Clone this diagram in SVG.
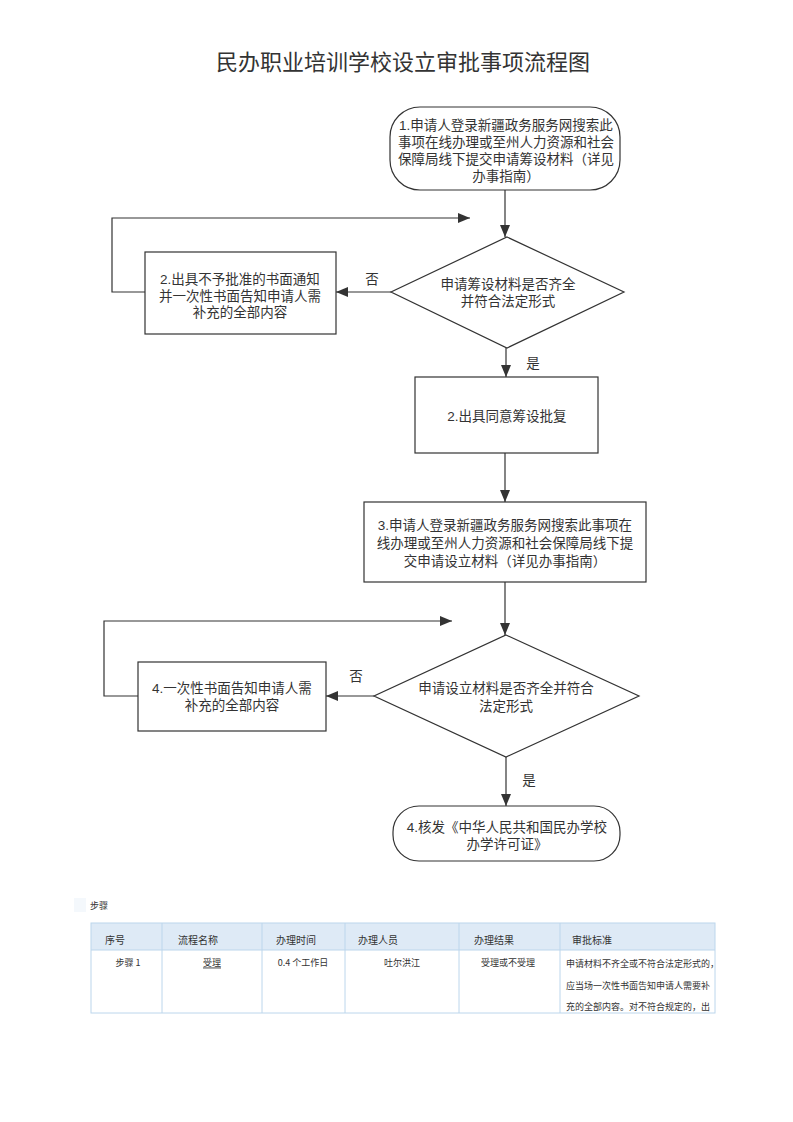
<svg xmlns="http://www.w3.org/2000/svg" width="793" height="1122" viewBox="0 0 793 1122">
<style>
.shape{fill:#fff;stroke:#333;stroke-width:1.2}
.ln{fill:none;stroke:#333;stroke-width:1.2}
.t{font-family:"Liberation Sans","Noto Sans CJK SC",sans-serif;font-size:13.5px;fill:#333;text-anchor:middle;dominant-baseline:central}
.title{font-family:"Liberation Sans","Noto Sans CJK SC",sans-serif;font-size:22px;fill:#333;text-anchor:middle}
.th{font-family:"Noto Sans CJK SC",sans-serif;font-size:10px;fill:#333;dominant-baseline:central}
.td{font-family:"Noto Sans CJK SC",sans-serif;font-size:9px;fill:#333;dominant-baseline:central}
.tb{fill:none;stroke:#bcd6ec;stroke-width:1}
</style>
<defs>
<marker id="arr" viewBox="0 0 12 10" refX="12" refY="5" markerWidth="12" markerHeight="10" markerUnits="userSpaceOnUse" orient="auto">
<path d="M0,0 L12,5 L0,10 Z" fill="#333"/>
</marker>
</defs>
<rect width="793" height="1122" fill="#fff"/>
<text class="title" x="403" y="70">民办职业培训学校设立审批事项流程图</text>

<g id="connectors">
<line class="ln" x1="505" y1="190" x2="505" y2="237" marker-end="url(#arr)"/>
<line class="ln" x1="391" y1="292" x2="336" y2="292" marker-end="url(#arr)"/>
<polyline class="ln" points="145,292 112,292 112,218 470,218" marker-end="url(#arr)"/>
<line class="ln" x1="506" y1="348" x2="506" y2="377" marker-end="url(#arr)"/>
<line class="ln" x1="505" y1="453" x2="505" y2="502" marker-end="url(#arr)"/>
<line class="ln" x1="505" y1="582" x2="505" y2="635" marker-end="url(#arr)"/>
<line class="ln" x1="374" y1="696" x2="326" y2="696" marker-end="url(#arr)"/>
<polyline class="ln" points="138,696 104,696 104,621 452,621" marker-end="url(#arr)"/>
<line class="ln" x1="506" y1="757" x2="506" y2="806" marker-end="url(#arr)"/>
<text class="t" x="372" y="279">否</text>
<text class="t" x="533" y="363">是</text>
<text class="t" x="356" y="676">否</text>
<text class="t" x="529" y="780">是</text>
</g>

<g id="n1">
<rect class="shape" x="390" y="107" width="230" height="83" rx="30" ry="30"/>
<text class="t" x="506" y="125">1.申请人登录新疆政务服务网搜索此</text>
<text class="t" x="506" y="142">事项在线办理或至州人力资源和社会</text>
<text class="t" x="506" y="159">保障局线下提交申请筹设材料（详见</text>
<text class="t" x="506" y="176">办事指南）</text>
</g>

<g id="d1">
<polygon class="shape" points="507,237 624,292 507,348 391,292"/>
<text class="t" x="508" y="284">申请筹设材料是否齐全</text>
<text class="t" x="508" y="301">并符合法定形式</text>
</g>

<g id="n2a">
<rect class="shape" x="145" y="252" width="191" height="82"/>
<text class="t" x="240" y="279">2.出具不予批准的书面通知</text>
<text class="t" x="240" y="296">并一次性书面告知申请人需</text>
<text class="t" x="240" y="312">补充的全部内容</text>
</g>

<g id="n2b">
<rect class="shape" x="415" y="377" width="183" height="76"/>
<text class="t" x="507" y="416">2.出具同意筹设批复</text>
</g>

<g id="n3">
<rect class="shape" x="364" y="502" width="282" height="80"/>
<text class="t" x="505" y="525">3.申请人登录新疆政务服务网搜索此事项在</text>
<text class="t" x="505" y="543">线办理或至州人力资源和社会保障局线下提</text>
<text class="t" x="505" y="561">交申请设立材料（详见办事指南）</text>
</g>

<g id="d2">
<polygon class="shape" points="506,635 639,696 506,757 374,696"/>
<text class="t" x="506" y="688">申请设立材料是否齐全并符合</text>
<text class="t" x="506" y="706">法定形式</text>
</g>

<g id="n4">
<rect class="shape" x="138" y="662" width="188" height="69"/>
<text class="t" x="232" y="688">4.一次性书面告知申请人需</text>
<text class="t" x="232" y="705">补充的全部内容</text>
</g>

<g id="n5">
<rect class="shape" x="393" y="806" width="227" height="55" rx="26" ry="26"/>
<text class="t" x="507" y="827">4.核发《中华人民共和国民办学校</text>
<text class="t" x="507" y="844">办学许可证》</text>
</g>

<g id="table">
<rect x="74" y="898" width="12" height="14" fill="#f4f8fc"/>
<text class="td" x="90" y="905" fill="#555">步骤</text>
<rect x="91" y="923" width="624" height="27" fill="#deeaf6"/>
<rect class="tb" x="91" y="923" width="624" height="90"/>
<line class="tb" x1="91" y1="950" x2="715" y2="950"/>
<line class="tb" x1="162" y1="923" x2="162" y2="1013"/>
<line class="tb" x1="262" y1="923" x2="262" y2="1013"/>
<line class="tb" x1="345" y1="923" x2="345" y2="1013"/>
<line class="tb" x1="459" y1="923" x2="459" y2="1013"/>
<line class="tb" x1="560" y1="923" x2="560" y2="1013"/>
<text class="th" x="105" y="939">序号</text>
<text class="th" x="178" y="939">流程名称</text>
<text class="th" x="276" y="939">办理时间</text>
<text class="th" x="358" y="939">办理人员</text>
<text class="th" x="474" y="939">办理结果</text>
<text class="th" x="572" y="939">审批标准</text>
<text class="td" x="128" y="962" text-anchor="middle">步骤 1</text>
<text class="td" x="212" y="962" text-anchor="middle" text-decoration="underline">受理</text>
<text class="td" x="303" y="962" text-anchor="middle">0.4 个工作日</text>
<text class="td" x="402" y="962" text-anchor="middle">吐尔洪江</text>
<text class="td" x="508" y="962" text-anchor="middle">受理或不受理</text>
<text class="td" x="566" y="963" font-size="8.5">申请材料不齐全或不符合法定形式的，</text>
<text class="td" x="566" y="985" font-size="8.5">应当场一次性书面告知申请人需要补</text>
<text class="td" x="566" y="1006" font-size="8.5">充的全部内容。对不符合规定的，出</text>
</g>
</svg>
